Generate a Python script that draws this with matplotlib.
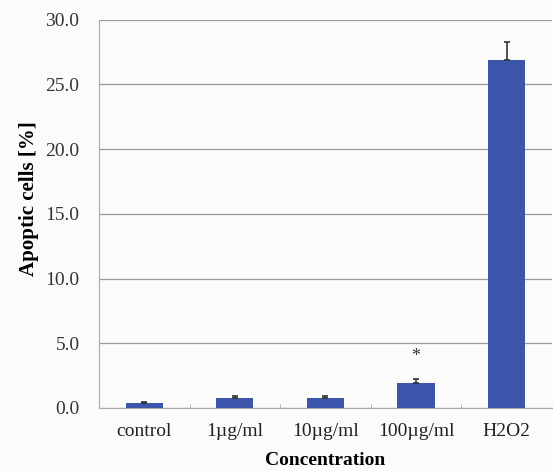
import numpy as np
import matplotlib.pyplot as plt

plt.rcParams['font.family'] = ['Liberation Serif', 'DejaVu Serif']

categories = ['control', '1\u00b5g/ml', '10\u00b5g/ml', '100\u00b5g/ml', 'H2O2']
values = [0.35, 0.8, 0.75, 1.95, 26.9]
errors = [0.08, 0.1, 0.15, 0.3, 1.4]
stars = ['', '', '', '*', '']

fig = plt.figure(figsize=(5.53, 4.71), dpi=100)
fig.patch.set_facecolor('#fbfbf9')
ax = fig.add_axes([0.179, 0.134, 0.819, 0.824])
ax.set_facecolor('#fbfbf9')

x = np.arange(len(categories))
ax.bar(x, values, width=0.41, color='#3a55aa', zorder=3)
ax.errorbar(x, values, yerr=[np.zeros(len(errors)), errors], fmt='none',
            ecolor='#333333', elinewidth=1.2, capsize=2.5, capthick=1.2, zorder=4)
for xi, v, e, s in zip(x, values, errors, stars):
    if s:
        ax.text(xi, v + e + 1.1, s, ha='center', va='bottom', fontsize=13, color='#333333')

ax.set_xlim(-0.5, len(categories) - 0.5)
ax.set_ylim(0, 30)
ax.set_yticks(np.arange(0, 30.1, 5))
ax.set_yticklabels(['%.1f' % t for t in np.arange(0, 30.1, 5)], fontsize=14, color='#333333')
ax.set_xticks(x)
ax.set_xticklabels(categories, fontsize=14, color='#222222')
ax.set_xticks(np.arange(0.5, len(categories) - 1, 1), minor=True)
ax.tick_params(axis='x', which='major', length=0, pad=11)
ax.tick_params(axis='x', which='minor', direction='in', length=3, color='#aaaaaa')
ax.tick_params(axis='y', length=0, pad=14)
ax.yaxis.grid(True, color='#999999', linewidth=0.9, zorder=0)
for sp in ['top', 'right']:
    ax.spines[sp].set_visible(False)
for sp in ['left', 'bottom']:
    ax.spines[sp].set_color('#aaaaaa')
ax.set_ylabel('Apoptic cells [%]', fontsize=15, fontweight='bold')
ax.yaxis.set_label_coords(-0.132, 0.54)
ax.set_xlabel('Concentration', fontsize=14, fontweight='bold')
ax.xaxis.set_label_coords(0.5, -0.113)

fig.savefig('out.png', dpi=100, facecolor=fig.get_facecolor())
